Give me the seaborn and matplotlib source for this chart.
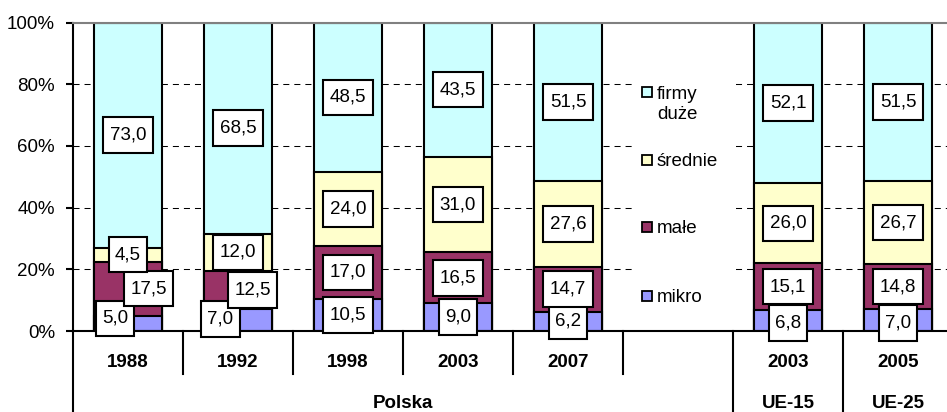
import numpy as np
import pandas as pd
import matplotlib
matplotlib.use("Agg")
import matplotlib.pyplot as plt
import seaborn as sns

# ---------------- data ----------------
bar_keys = ["PL 1988", "PL 1992", "PL 1998", "PL 2003", "PL 2007", "UE-15 2003", "UE-25 2005"]
years = ["1988", "1992", "1998", "2003", "2007", "2003", "2005"]
groups = ["Polska", "Polska", "Polska", "Polska", "Polska", "UE-15", "UE-25"]
mikro = [5.0, 7.0, 10.5, 9.0, 6.2, 6.8, 7.0]
male = [17.5, 12.5, 17.0, 16.5, 14.7, 15.1, 14.8]
srednie = [4.5, 12.0, 24.0, 31.0, 27.6, 26.0, 26.7]
duze = [73.0, 68.5, 48.5, 43.5, 51.5, 52.1, 51.5]
series_names = ["mikro", "małe", "średnie", "firmy\nduże"]
y_ticks = [0, 20, 40, 60, 80, 100]
y_tick_labels = ["0%", "20%", "40%", "60%", "80%", "100%"]

# ---------------- style ----------------
plt.rcParams["font.family"] = ["Liberation Sans", "DejaVu Sans"]
plt.rcParams["text.color"] = "black"
colors = ["#9999FF", "#993366", "#FFFFCC", "#CCFFFF"]
FS = 13.5

# layout: an empty slot (holding the legend) after the Polish bars
gap_key = " "
order = bar_keys[:5] + [gap_key] + bar_keys[5:]
slot_groups = groups[:5] + ["Polska"] + groups[5:]

fig = plt.figure(figsize=(9.47, 4.12), dpi=100)
ax = fig.add_axes([73 / 947, 81 / 412, 880 / 947, 308.5 / 412])

values = np.array([mikro, male, srednie, duze])
cum = values.cumsum(axis=0)
bottoms = cum - values

df = pd.DataFrame({"key": bar_keys})
for k in range(4):
    df[f"cum{k}"] = cum[k]

# draw cumulative bars from tallest to shortest so they stack visually
for k in range(3, -1, -1):
    sns.barplot(data=df, x="key", y=f"cum{k}", order=order, color=colors[k],
                saturation=1, width=0.62, edgecolor="black", linewidth=1.5,
                errorbar=None, ax=ax, zorder=2)

ax.set_xlim(-0.5, len(order) - 0.5)
ax.set_ylim(0, 100)
ax.set_xlabel("")
ax.set_ylabel("")
ax.set_xticks([])

# gridlines
for t in y_ticks[1:-1]:
    ax.axhline(t, color="black", linewidth=0.75, linestyle=(0, (5.8, 4.8)), zorder=0.5)

# y axis
ax.set_yticks(y_ticks)
ax.set_yticklabels(y_tick_labels)
ax.tick_params(axis="y", left=True, length=5, width=1.5, color="black", pad=8,
               labelsize=FS, labelcolor="black")

for side in ["left", "bottom"]:
    ax.spines[side].set_color("black")
    ax.spines[side].set_linewidth(1.5)
ax.spines["top"].set_color("#808080")
ax.spines["top"].set_linewidth(1.5)
ax.spines["right"].set_visible(False)

# value labels
px = 72 / 100
label_offsets = {(0, 0): (-13, 5), (1, 0): (20.5, 0), (0, 1): (-17.5, 1),
                 (1, 1): (14.5, 0), (0, 5): (0, -2.5), (0, 6): (0, -3)}
for k in range(4):
    for j, key in enumerate(bar_keys):
        xpos = order.index(key)
        ypos = bottoms[k, j] + values[k, j] / 2
        dx, dy = label_offsets.get((k, j), (0, 0))
        ax.annotate(f"{values[k, j]:.1f}".replace(".", ","), xy=(xpos, ypos),
                    xytext=(dx * px, dy * px), textcoords="offset points",
                    ha="center", va="center", fontsize=FS, color="black",
                    bbox=dict(boxstyle="square,pad=0.34", fc="white", ec="black",
                              lw=1.5, mutation_aspect=1.45),
                    zorder=5, annotation_clip=False)

# legend in the empty slot
gap_pos = order.index(gap_key)
ax.axvspan(gap_pos - 0.42, gap_pos + 0.5, ymin=0.03, ymax=0.92, color="white", lw=0, zorder=1)
leg_y = [11.5, 33.8, 55.5, 77.5]
for k in range(4):
    ax.plot([gap_pos - 0.282], [leg_y[k]], marker="s", ms=6.5, mfc=colors[k], mec="black",
            mew=1.3, ls="none", zorder=3)
    name = series_names[k]
    if "\n" in name:
        # baseline of the last line, first line level with the square
        ax.text(gap_pos - 0.191, leg_y[k] - 8.9, name, ha="left", va="baseline",
                fontsize=FS, linespacing=1.28, zorder=3)
    else:
        ax.text(gap_pos - 0.191, leg_y[k], name, ha="left", va="center_baseline",
                fontsize=FS, zorder=3)

# two-level category axis
trans = ax.get_xaxis_transform()
for j, key in enumerate(bar_keys):
    ax.annotate(years[j], xy=(order.index(key), 0), xycoords=trans, xytext=(0, -26),
                textcoords="offset points", ha="center", va="baseline", fontsize=FS,
                fontweight="bold", annotation_clip=False)
for g in dict.fromkeys(slot_groups):
    idx = [i for i, s in enumerate(slot_groups) if s == g]
    ax.annotate(g, xy=((min(idx) + max(idx)) / 2, 0), xycoords=trans, xytext=(0, -55.4),
                textcoords="offset points", ha="center", va="baseline", fontsize=FS,
                fontweight="bold", annotation_clip=False)
n = len(order)
for b in range(n + 1):
    left = slot_groups[b - 1] if b > 0 else None
    right = slot_groups[b] if b < n else None
    long_line = left is None or right is None or left != right
    depth = -0.35 if long_line else -43 / 308.5
    ax.plot([b - 0.5, b - 0.5], [0, depth], transform=trans, color="black", lw=1.5,
            clip_on=False, zorder=3)

fig.savefig("out.png", dpi=100)
